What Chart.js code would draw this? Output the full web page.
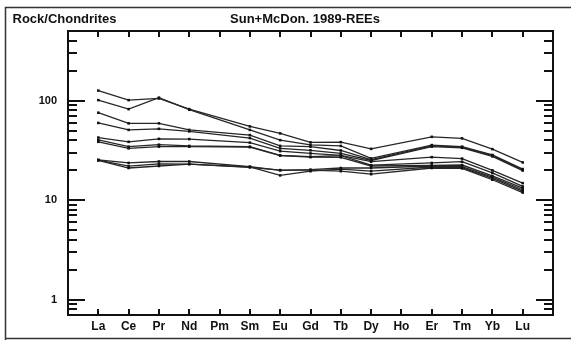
<!DOCTYPE html>
<html>
<head>
<meta charset="utf-8">
<script src="https://cdn.jsdelivr.net/npm/chart.js@4.4.1/dist/chart.umd.min.js"></script>
<style>
  html, body { margin: 0; padding: 0; background: #fff; }
  #wrap { width: 571px; height: 340px; position: relative; }
</style>
</head>
<body>
<div id="wrap"><canvas id="c" width="571" height="340"></canvas></div>
<script>
// Rare earth elements, in plotting order (Pm and Ho have no analyses)
const elements = ['La','Ce','Pr','Nd','Pm','Sm','Eu','Gd','Tb','Dy','Ho','Er','Tm','Yb','Lu'];

// Chondrite-normalised concentrations, one array per sample
const sample1  = [126, 101, 105, 82, null, 55,   46.8, 38,   38.2, 32.7, null, 43.2, 41.7, 32.5, 23.9];
const sample2  = [101, 82,  107, 81, null, 50.7, 40,   35.8, 35,   26.2, null, 35.7, 34.4, 28.4, 20.5];
const sample3  = [75.5, 59, 59,  50.7, null, 45, 35,   34.4, 31.5, 25.5, null, 35,   34,   28,   20.2];
const sample4  = [59.6, 50.7, 52, 49, null, 42,  33,   31.6, 29.4, 25,   null, 34.5, 33.5, 27.5, 19.8];
const sample5  = [42.5, 38.5, 41.2, 41, null, 37.8, 31, 29.4, 28.1, 24.3, null, 27,  26.1, 19.9, 14.8];
const sample6  = [40.2, 34.4, 36, 35, null, 34.4, 28.1, 27.3, 27.9, 22.4, null, 23.6, 24.3, 18.8, 13.7];
const sample7  = [38.5, 33.1, 34.4, 34.4, null, 34, 28, 27,  26.9, 22,   null, 22.3, 22.5, 17.5, 13.2];
const sample8  = [25.4, 23.6, 24.4, 24.4, null, 21.7, 19.9, 20.2, 21, 21, null, 22,   21.7, 17,   12.7];
const sample9  = [25.2, 21.9, 23.1, 23, null, 21.5, 17.7, 19.5, 20.5, 19.5, null, 21.5, 21.2, 16.5, 12.3];
const sample10 = [25,   21,   22,   23, null, 21.3, 20,  20,   19.5, 18.2, null, 21,   20.8, 16,   11.9];

const samples = [sample1, sample2, sample3, sample4, sample5, sample6, sample7, sample8, sample9, sample10];

// Axis tick values
const yLabelValues = [1, 10, 100];
const yMinorValues = [0.8, 0.9, 2, 3, 4, 5, 6, 7, 8, 9, 20, 30, 40, 50, 60, 70, 80, 90, 200, 300, 400];
const xTickValues = elements.map((e, i) => i);

const leftTitle = 'Rock/Chondrites';
const centerTitle = 'Sun+McDon. 1989-REEs';

const datasets = samples.map(vals => ({
  data: vals.map((v, i) => ({ x: i, y: v })).filter(p => p.y !== null),
  borderColor: '#262626',
  borderWidth: 1.3,
  pointStyle: 'rect',
  pointRadius: 1.8,
  pointBackgroundColor: '#111',
  pointBorderColor: '#111',
  pointBorderWidth: 0,
  tension: 0,
  fill: false
}));

// Frame, inward tick marks, headings and the outer border
const framePlugin = {
  id: 'frame',
  afterDraw(chart) {
    const { ctx, chartArea: a, scales } = chart;
    const ys = scales.y, xs = scales.x;
    ctx.save();
    ctx.strokeStyle = '#111';
    ctx.lineWidth = 2;
    ctx.lineCap = 'butt';
    ctx.strokeRect(a.left, a.top, a.right - a.left, a.bottom - a.top);

    ctx.beginPath();
    yLabelValues.forEach(v => {
      const y = Math.round(ys.getPixelForValue(v));
      ctx.moveTo(a.left, y); ctx.lineTo(a.left + 17, y);
      ctx.moveTo(a.right, y); ctx.lineTo(a.right - 17, y);
    });
    yMinorValues.forEach(v => {
      const y = Math.round(ys.getPixelForValue(v));
      ctx.moveTo(a.left, y); ctx.lineTo(a.left + 9, y);
      ctx.moveTo(a.right, y); ctx.lineTo(a.right - 9, y);
    });
    xTickValues.forEach(v => {
      const x = Math.round(xs.getPixelForValue(v));
      ctx.moveTo(x, a.bottom); ctx.lineTo(x, a.bottom - 6);
      ctx.moveTo(x, a.top); ctx.lineTo(x, a.top + 6);
    });
    ctx.stroke();

    // outer border
    ctx.lineWidth = 1.5;
    ctx.strokeStyle = '#333';
    ctx.beginPath();
    ctx.moveTo(5.5, 340); ctx.lineTo(5.5, 7.5); ctx.lineTo(571, 7.5);
    ctx.moveTo(5.5, 338.5); ctx.lineTo(571, 338.5);
    ctx.stroke();

    ctx.fillStyle = '#111';
    ctx.font = 'bold 13px "Liberation Sans", Arial, sans-serif';
    ctx.textBaseline = 'middle';
    ctx.textAlign = 'left';
    ctx.fillText(leftTitle, 12.5, 19);
    ctx.textAlign = 'center';
    ctx.fillText(centerTitle, 305, 19);
    ctx.restore();
  }
};

new Chart(document.getElementById('c'), {
  type: 'line',
  data: { datasets },
  options: {
    responsive: false,
    animation: false,
    devicePixelRatio: 1,
    layout: { padding: { top: 31, right: 18, left: 0, bottom: 0 } },
    plugins: { legend: { display: false }, tooltip: { enabled: false } },
    spanGaps: true,
    scales: {
      x: {
        type: 'linear',
        min: -1,
        max: 15,
        afterBuildTicks: s => { s.ticks = xTickValues.map(v => ({ value: v })); },
        afterFit: s => { s.height = 25; },
        ticks: {
          autoSkip: false,
          maxRotation: 0,
          padding: 4,
          color: '#111',
          font: { family: '"Liberation Sans", Arial, sans-serif', size: 12, weight: 'bold' },
          callback: v => elements[v]
        },
        grid: { display: false, drawTicks: false },
        border: { display: false }
      },
      y: {
        type: 'logarithmic',
        min: 0.7,
        max: 500,
        afterBuildTicks: s => { s.ticks = yLabelValues.map(v => ({ value: v })); },
        afterFit: s => { s.width = 68; },
        ticks: {
          autoSkip: false,
          padding: 11,
          color: '#111',
          font: { family: '"Liberation Sans", Arial, sans-serif', size: 11, weight: 'bold' },
          callback: v => String(v)
        },
        grid: { display: false, drawTicks: false },
        border: { display: false }
      }
    }
  },
  plugins: [framePlugin]
});
</script>
</body>
</html>
